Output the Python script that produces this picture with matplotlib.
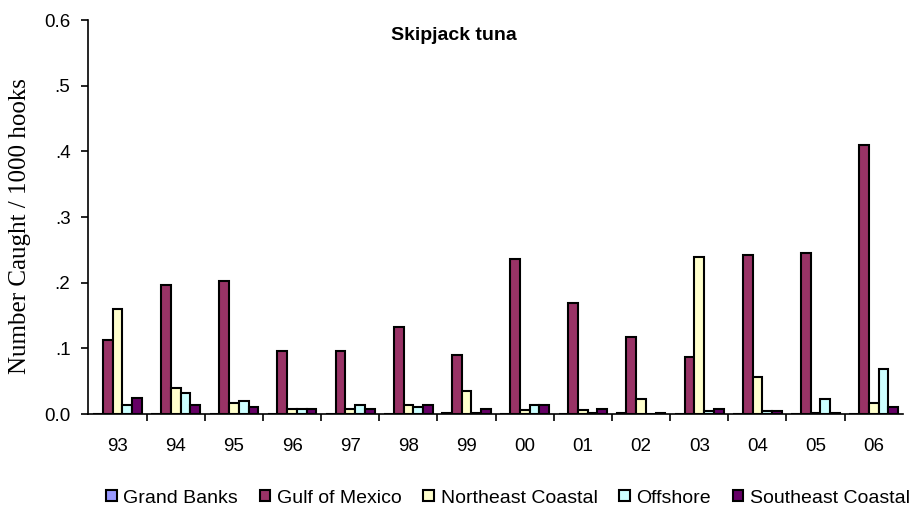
import numpy as np
import matplotlib.pyplot as plt

# catch rates per year and area
years = ["93", "94", "95", "96", "97", "98", "99", "00", "01", "02", "03", "04", "05", "06"]
grand_banks = [0, 0, 0, 0, 0, 0, 0.002, 0, 0, 0.002, 0, 0, 0, 0]
gulf_of_mexico = [0.112, 0.197, 0.203, 0.096, 0.096, 0.133, 0.090, 0.236, 0.169, 0.118, 0.087, 0.242, 0.245, 0.410]
northeast_coastal = [0.160, 0.039, 0.017, 0.008, 0.008, 0.014, 0.035, 0.006, 0.006, 0.023, 0.239, 0.057, 0.002, 0.017]
offshore = [0.014, 0.032, 0.020, 0.008, 0.014, 0.011, 0.002, 0.014, 0.002, 0, 0.005, 0.005, 0.023, 0.069]
southeast_coastal = [0.024, 0.014, 0.011, 0.008, 0.008, 0.014, 0.008, 0.014, 0.008, 0.002, 0.008, 0.005, 0.002, 0.011]

series = [
    ("Grand Banks", grand_banks, "#9999FF"),
    ("Gulf of Mexico", gulf_of_mexico, "#993366"),
    ("Northeast Coastal", northeast_coastal, "#FFFFCC"),
    ("Offshore", offshore, "#CCFFFF"),
    ("Southeast Coastal", southeast_coastal, "#660066"),
]

fig = plt.figure(figsize=(9.17, 5.27), dpi=100)
ax = fig.add_axes([0.0965, 0.2144, 0.888, 0.7476])

x = np.arange(len(years))
w = 0.1675
for i, (name, vals, col) in enumerate(series):
    ax.bar(x + (i - 2) * w, vals, width=w, color=col, edgecolor="black",
           linewidth=1.5, label=name)

ax.set_xlim(-0.5, len(years) - 0.5)
ax.set_ylim(0, 0.6)
ax.set_yticks([0, 0.1, 0.2, 0.3, 0.4, 0.5, 0.6])
ax.set_yticklabels(["0.0", ".1", ".2", ".3", ".4", ".5", "0.6"],
                   fontsize=13.5, family="Liberation Sans")

# category labels centred, tick marks between groups
ax.set_xticks(np.arange(len(years) - 1) + 0.5)
ax.set_xticklabels([])
ax.set_xticks(x, minor=True)
ax.set_xticklabels(years, minor=True, fontsize=13.5, family="Liberation Sans")
ax.tick_params(axis="x", which="minor", length=0, pad=17)
ax.tick_params(axis="x", which="major", direction="out", length=5, width=1.2)
ax.tick_params(axis="y", direction="out", length=5, width=1.2, pad=8)

for side in ["top", "right"]:
    ax.spines[side].set_visible(False)
for side in ["left", "bottom"]:
    ax.spines[side].set_linewidth(1.2)

ax.set_ylabel("Number Caught / 1000 hooks", fontsize=18,
              family="Liberation Serif")
ax.yaxis.set_label_coords(-0.07, 0.477)

fig.text(0.4945, 0.924, "Skipjack tuna", ha="center", va="baseline",
         fontsize=14, fontweight="bold", family="Liberation Sans")

fig.legend(loc="center", bbox_to_anchor=(0.554, 0.055), ncol=5, frameon=False,
           prop={"family": "Liberation Sans", "size": 14},
           handlelength=0.55, handleheight=0.55, handletextpad=0.35,
           columnspacing=1.1, borderaxespad=0)

fig.savefig("out.png", dpi=100)
